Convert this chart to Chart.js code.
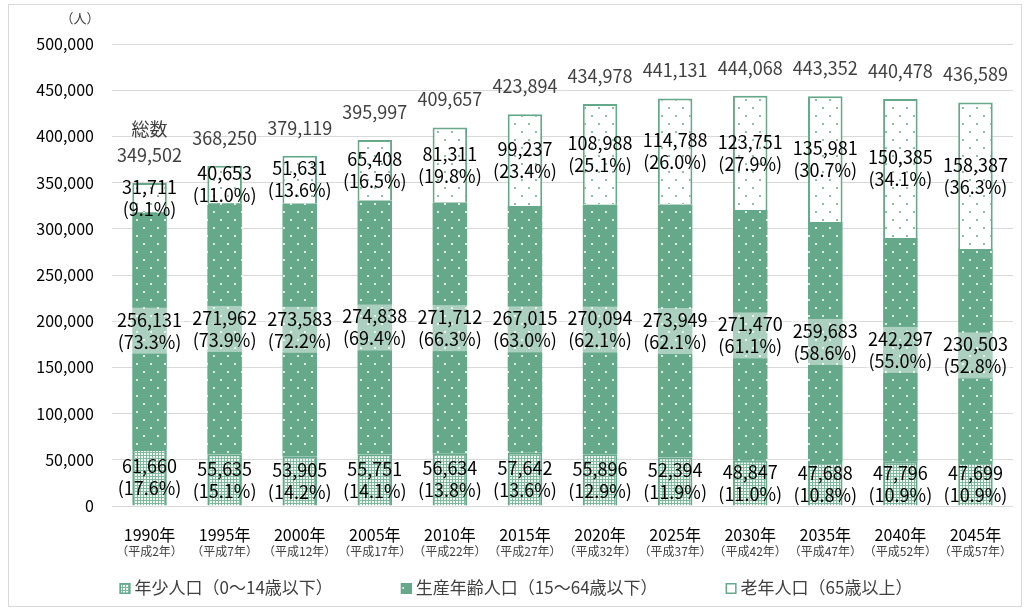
<!DOCTYPE html>
<html lang="ja">
<head>
<meta charset="utf-8">
<script src="https://cdn.jsdelivr.net/npm/chart.js@4.4.0/dist/chart.umd.min.js"></script>
<style>
  html, body { margin: 0; padding: 0; background: #fff; }
  #wrap { position: relative; width: 1029px; height: 608px; }
</style>
</head>
<body>
<div id="wrap"><canvas id="chart" width="1029" height="608"></canvas></div>
<script>
// categories
const years = ['1990年', '1995年', '2000年', '2005年', '2010年', '2015年', '2020年', '2025年', '2030年', '2035年', '2040年', '2045年'];
const heisei = ['（平成2年）', '（平成7年）', '（平成12年）', '（平成17年）', '（平成22年）', '（平成27年）', '（平成32年）', '（平成37年）', '（平成42年）', '（平成47年）', '（平成52年）', '（平成57年）'];

// series values
const young = [61660, 55635, 53905, 55751, 56634, 57642, 55896, 52394, 48847, 47688, 47796, 47699];
const youngPct = ['17.6', '15.1', '14.2', '14.1', '13.8', '13.6', '12.9', '11.9', '11.0', '10.8', '10.9', '10.9'];
const working = [256131, 271962, 273583, 274838, 271712, 267015, 270094, 273949, 271470, 259683, 242297, 230503];
const workingPct = ['73.3', '73.9', '72.2', '69.4', '66.3', '63.0', '62.1', '62.1', '61.1', '58.6', '55.0', '52.8'];
const elderly = [31711, 40653, 51631, 65408, 81311, 99237, 108988, 114788, 123751, 135981, 150385, 158387];
const elderlyPct = ['9.1', '11.0', '13.6', '16.5', '19.8', '23.4', '25.1', '26.0', '27.9', '30.7', '34.1', '36.3'];
const totals = [349502, 368250, 379119, 395997, 409657, 423894, 434978, 441131, 444068, 443352, 440478, 436589];

// y ticks
const yMax = 500000;
const yStep = 50000;

const green = '#66a98a';
const fontJP = '"Noto Sans CJK JP", "Noto Sans", sans-serif';

// fill patterns
function makePattern(w, h, draw) {
  const c = document.createElement('canvas');
  c.width = w; c.height = h;
  const g = c.getContext('2d');
  draw(g);
  return g.createPattern(c, 'repeat');
}
const ctx = document.getElementById('chart').getContext('2d');
const youngFill = makePattern(3, 3, g => {
  g.fillStyle = '#7fb89d'; g.fillRect(0, 0, 3, 3);
  g.fillStyle = '#f2f9f5'; g.fillRect(0, 0, 2, 2);
});
const workingFill = makePattern(14, 16, g => {
  g.fillStyle = green; g.fillRect(0, 0, 14, 16);
  g.fillStyle = '#dcefe5';
  g.fillRect(3, 3, 2, 2); g.fillRect(10, 11, 2, 2);
});
const elderlyFill = makePattern(14, 16, g => {
  g.fillStyle = '#fff'; g.fillRect(0, 0, 14, 16);
  g.fillStyle = '#8cc1a8';
  g.fillRect(3, 3, 2, 2); g.fillRect(10, 11, 2, 2);
});

const fmt = n => n.toLocaleString('en-US');

// labels inside bars, totals, heisei line, legend, frame
const extras = {
  id: 'extras',
  afterDatasetsDraw(chart) {
    const c = chart.ctx;
    const pcts = [youngPct, workingPct, elderlyPct];
    c.save();
    c.textAlign = 'center';
    c.textBaseline = 'middle';
    c.font = '18px ' + fontJP;
    chart.data.datasets.forEach((ds, di) => {
      const meta = chart.getDatasetMeta(di);
      meta.data.forEach((bar, i) => {
        const cy = (bar.y + bar.base) / 2;
        const l1 = fmt(ds.data[i]);
        const l2 = '(' + pcts[di][i] + '%)';
        if (di === 1) {
          const w = Math.max(c.measureText(l1).width, c.measureText(l2).width);
          c.fillStyle = 'rgba(255,255,255,0.45)';
          c.fillRect(bar.x - w / 2 - 2, cy - 23, w + 4, 46);
        }
        c.fillStyle = '#000';
        c.fillText(l1, bar.x, cy - 11);
        c.fillText(l2, bar.x, cy + 11);
      });
    });
    // totals
    const top = chart.getDatasetMeta(2);
    const ys = chart.scales.y;
    c.fillStyle = '#404040';
    top.data.forEach((bar, i) => {
      const ty = ys.getPixelForValue(totals[i]) - 28;
      c.fillText(fmt(totals[i]), bar.x, ty);
      if (i === 0) c.fillText('総数', bar.x, ty - 26);
    });
    c.restore();
  },
  afterDraw(chart) {
    const c = chart.ctx;
    const xs = chart.scales.x;
    c.save();
    c.textAlign = 'center';
    c.textBaseline = 'middle';
    c.fillStyle = '#404040';
    c.font = '12px ' + fontJP;
    heisei.forEach((t, i) => {
      c.fillText(t, xs.getPixelForValue(i), chart.chartArea.bottom + 45);
    });
    c.font = '13px ' + fontJP;
    c.fillText('（人）', 80, 18);

    // legend
    c.font = '17px ' + fontJP;
    c.textAlign = 'left';
    const ds = chart.data.datasets;
    const gap = 68;
    const widths = ds.map(d => 15 + c.measureText(d.label).width);
    const total = widths.reduce((a, b) => a + b, 0) + gap * (ds.length - 1);
    let lx = 516 - total / 2;
    const ly = 588;
    ds.forEach((d, i) => {
      c.fillStyle = d.backgroundColor;
      c.fillRect(lx, ly - 5, 11, 11);
      c.strokeStyle = green;
      c.lineWidth = 1.5;
      c.strokeRect(lx + 0.75, ly - 4.25, 9.5, 9.5);
      c.fillStyle = '#404040';
      c.fillText(d.label, lx + 15, ly);
      lx += widths[i] + gap;
    });

    c.strokeStyle = '#d9d9d9';
    c.lineWidth = 1;
    c.strokeRect(8.5, 4.5, 1013, 602);
    c.restore();
  }
};

new Chart(ctx, {
  type: 'bar',
  data: {
    labels: years,
    datasets: [
      { label: '年少人口（0～14歳以下）', data: young, backgroundColor: youngFill, borderColor: green, borderWidth: 2 },
      { label: '生産年齢人口（15～64歳以下）', data: working, backgroundColor: workingFill, borderColor: green, borderWidth: 0 },
      { label: '老年人口（65歳以上）', data: elderly, backgroundColor: elderlyFill, borderColor: green, borderWidth: 2 }
    ]
  },
  options: {
    responsive: false,
    animation: false,
    layout: { padding: { top: 44, right: 16, bottom: 44, left: 0 } },
    datasets: { bar: { barPercentage: 0.46, categoryPercentage: 1 } },
    scales: {
      x: {
        stacked: true,
        grid: { display: false },
        border: { display: false },
        ticks: { color: '#000', font: { size: 16, family: fontJP }, padding: 11 },
        afterFit(s) { s.height = 58; }
      },
      y: {
        stacked: true,
        min: 0,
        max: yMax,
        ticks: { stepSize: yStep, color: '#000', font: { size: 16, family: fontJP }, padding: 18, callback: v => fmt(v) },
        grid: { color: '#d9d9d9', drawTicks: false },
        border: { display: false },
        afterFit(s) { s.width = 112; }
      }
    },
    plugins: {
      legend: { display: false },
      tooltip: { enabled: false }
    }
  },
  plugins: [extras]
});
</script>
</body>
</html>
